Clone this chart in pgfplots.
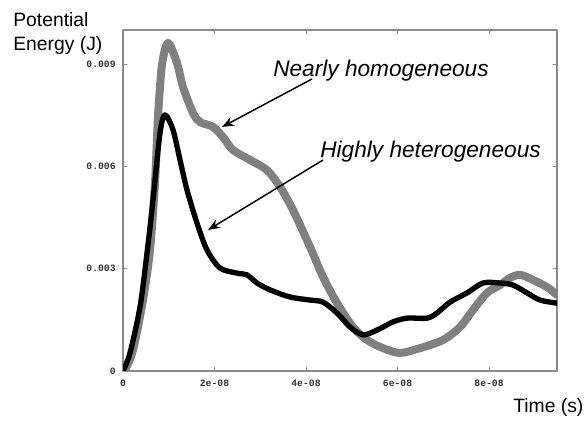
\documentclass[border=0pt]{standalone}
\usepackage{pgfplots}
\pgfplotsset{compat=1.18}
\usepackage{fontspec}
\setmainfont{Liberation Sans}
\newfontfamily\tickfont{Liberation Mono}
\usetikzlibrary{arrows.meta}
\definecolor{curvegray}{RGB}{128,128,128}
\definecolor{framegray}{RGB}{140,140,140}

\begin{document}
\begin{tikzpicture}
\useasboundingbox (0,0) rectangle (439.5pt,315.75pt);
\begin{axis}[
  at={(92.25pt,37.5pt)}, anchor=south west,
  scale only axis,
  width=325.5pt, height=255.75pt,
  xmin=0, xmax=9.486,
  ymin=0, ymax=10,
  xtick={0,2,4,6,8},
  xticklabels={0,2e-08,4e-08,6e-08,8e-08},
  ytick={0,3,6,9},
  yticklabels={0,0.003,0.006,0.009},
  tick align=inside,
  major tick length=3pt,
  tick style={framegray, line width=0.6pt},
  axis line style={framegray, line width=0.9pt},
  ticklabel style={font=\tickfont\bfseries\fontsize{7.3}{8}\selectfont, text=black!80},
  yticklabel style={xshift=-2pt},
  xticklabel style={yshift=-3pt},
  line join=round, line cap=round,
]
% Nearly homogeneous
\addplot[smooth, curvegray, line width=6pt] coordinates {
  (0,0) (0.044,0.03) (0.219,0.62) (0.437,2.08) (0.590,3.55) (0.699,5.51)
  (0.765,7.45) (0.852,8.97) (0.984,9.62) (1.180,9.03) (1.311,8.33)
  (1.530,7.57) (1.683,7.30) (1.967,7.16) (2.186,6.86) (2.404,6.48)
  (2.776,6.19) (3.148,5.89) (3.432,5.40) (3.716,4.72) (4.087,3.64)
  (4.372,2.76) (4.678,1.99) (5.027,1.29) (5.333,0.91) (5.683,0.67)
  (6.055,0.53) (6.492,0.67) (6.995,0.91) (7.366,1.29) (7.650,1.79)
  (7.956,2.29) (8.240,2.52) (8.459,2.73) (8.678,2.82) (8.962,2.67)
  (9.268,2.46) (9.486,2.23)
};
% Highly heterogeneous
\addplot[smooth, black, line width=4pt] coordinates {
  (0,0) (0.153,0.53) (0.372,1.88) (0.525,3.46) (0.656,5.01) (0.809,6.98)
  (0.918,7.51) (1.093,7.07) (1.246,6.19) (1.399,5.31) (1.617,4.34)
  (1.836,3.55) (2.120,3.02) (2.492,2.87) (2.710,2.82) (2.929,2.58)
  (3.213,2.38) (3.650,2.17) (4.087,2.08) (4.372,2.02) (4.678,1.70)
  (4.962,1.29) (5.246,1.06) (5.552,1.20) (5.902,1.44) (6.208,1.55)
  (6.645,1.55) (6.863,1.70) (7.148,2.02) (7.519,2.29) (7.869,2.58)
  (8.240,2.58) (8.525,2.52) (8.831,2.29) (9.115,2.08) (9.486,1.99)
};
\end{axis}
\begin{scope}[yshift=315.75pt, x=0.75pt, y=-0.75pt]
  \node[anchor=base west, inner sep=0pt, font=\fontsize{14.5}{17}\selectfont] at (13,27) {Potential};
  \node[anchor=base west, inner sep=0pt, font=\fontsize{14.5}{17}\selectfont] at (13,51) {Energy (J)};
  \node[anchor=base west, inner sep=0pt, font=\fontsize{14.5}{17}\selectfont] at (513,413) {Time (s)};
  \node[anchor=base west, inner sep=0pt, font=\fontsize{17}{20}\selectfont\itshape] at (273,77) {Nearly homogeneous};
  \node[anchor=base west, inner sep=0pt, font=\fontsize{17}{20}\selectfont\itshape] at (320,158) {Highly heterogeneous};
  \draw[line width=1.1pt, -{Stealth[length=9pt, width=7pt]}] (312,79) -- (222,127);
  \draw[line width=1.1pt, -{Stealth[length=9pt, width=7pt]}] (323,160) -- (208,230);
\end{scope}
\end{tikzpicture}
\end{document}
